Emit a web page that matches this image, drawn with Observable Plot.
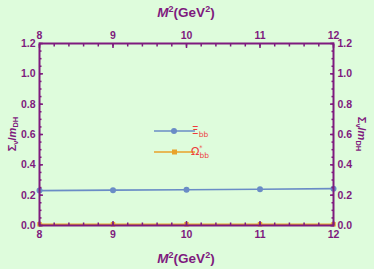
<!DOCTYPE html>
<html>
<head>
<meta charset="utf-8">
<script src="https://cdn.jsdelivr.net/npm/d3@7"></script>
<script src="https://cdn.jsdelivr.net/npm/@observablehq/plot@0.6"></script>
<style>
  html, body { margin: 0; padding: 0; background: #defcdc; }
  #chart svg { display: block; }
</style>
</head>
<body>
<div id="chart"></div>
<script>
const m2 = [8, 9, 10, 11, 12];
const xiBB = [0.230, 0.233, 0.236, 0.239, 0.243];
const omegaBB = [0.008, 0.008, 0.008, 0.008, 0.008];
const xTicks = [8, 9, 10, 11, 12];
const yTicks = [0.0, 0.2, 0.4, 0.6, 0.8, 1.0, 1.2];

const purple = "#7e1a7e";
const blue = "#6a8cc6";
const orange = "#e8a22a";
const bg = "#defcdc";

const rowsXi = m2.map((m, i) => ({m, v: xiBB[i]}));
const rowsOm = m2.map((m, i) => ({m, v: omegaBB[i]}));

const W = 374, H = 269;
const font = "Liberation Sans, Arial, sans-serif";

const plot = Plot.plot({
  width: W, height: H,
  marginLeft: 39, marginRight: 41, marginTop: 43, marginBottom: 44,
  style: {background: bg, fontFamily: font, fontWeight: "bold", fontSize: "10.5px", color: purple},
  x: {domain: [8, 12], label: null},
  y: {domain: [0, 1.2], label: null},
  marks: [
    Plot.line(rowsXi, {x: "m", y: "v", stroke: blue, strokeWidth: 1.6}),
    Plot.dot(rowsXi, {x: "m", y: "v", fill: blue, r: 3}),
    Plot.line(rowsOm, {x: "m", y: "v", stroke: orange, strokeWidth: 1.6}),
    Plot.dot(rowsOm, {x: "m", y: "v", fill: orange, symbol: "square", r: 2.5}),
    // minor ticks
    Plot.axisX({anchor: "bottom", ticks: d3.range(8, 12.001, 0.2), tickSize: -2.5, text: null, stroke: purple, strokeWidth: 1.5, label: null}),
    Plot.axisX({anchor: "top", ticks: d3.range(8, 12.001, 0.2), tickSize: -2.5, text: null, stroke: purple, strokeWidth: 1.5, label: null}),
    Plot.axisY({anchor: "left", ticks: d3.range(0, 1.2001, 0.05), tickSize: -2.5, text: null, stroke: purple, strokeWidth: 1.5, label: null}),
    Plot.axisY({anchor: "right", ticks: d3.range(0, 1.2001, 0.05), tickSize: -2.5, text: null, stroke: purple, strokeWidth: 1.5, label: null}),
    // major ticks
    Plot.axisX({anchor: "bottom", ticks: xTicks, tickSize: -4, text: null, stroke: purple, strokeWidth: 1.5, label: null}),
    Plot.axisX({anchor: "top", ticks: xTicks, tickSize: -4, text: null, stroke: purple, strokeWidth: 1.5, label: null}),
    Plot.axisY({anchor: "left", ticks: yTicks, tickSize: -4, text: null, stroke: purple, strokeWidth: 1.5, label: null}),
    Plot.axisY({anchor: "right", ticks: yTicks, tickSize: -4, text: null, stroke: purple, strokeWidth: 1.5, label: null}),
    // tick labels
    Plot.axisX({anchor: "bottom", ticks: xTicks, tickSize: 0, tickPadding: 5, tickFormat: d => String(d), fill: purple, label: null}),
    Plot.axisX({anchor: "top", ticks: xTicks, tickSize: 0, tickPadding: 5, tickFormat: d => String(d), fill: purple, label: null}),
    Plot.axisY({anchor: "left", ticks: yTicks, tickSize: 0, tickPadding: 4, tickFormat: d3.format(".1f"), fill: purple, label: null}),
    Plot.axisY({anchor: "right", ticks: yTicks, tickSize: 0, tickPadding: 4, tickFormat: d3.format(".1f"), fill: purple, label: null}),
    Plot.frame({stroke: purple, strokeWidth: 2})
  ]
});
document.getElementById("chart").appendChild(plot);

const svg = d3.select(plot);
const x0 = 39, x1 = W - 41, y0 = 43, y1 = H - 44;
const cx = (x0 + x1) / 2, cy = (y0 + y1) / 2;

function xTitle(y) {
  const t = svg.append("text").attr("x", cx).attr("y", y).attr("text-anchor", "middle")
    .attr("fill", purple).style("font", `bold 13.5px ${font}`);
  t.append("tspan").attr("font-style", "italic").text("M");
  t.append("tspan").attr("font-size", "9px").attr("dy", -5).text("2");
  t.append("tspan").attr("dy", 5).text("(GeV");
  t.append("tspan").attr("font-size", "9px").attr("dy", -5).text("2");
  t.append("tspan").attr("dy", 5).text(")");
}
xTitle(17);
xTitle(263);

function yTitle(x, rot) {
  const t = svg.append("text").attr("transform", `translate(${x},${cy}) rotate(${rot})`)
    .attr("text-anchor", "middle").attr("fill", purple).style("font", `bold 11px ${font}`);
  t.append("tspan").text("Σ");
  t.append("tspan").attr("font-size", "7.5px").attr("dy", 2).text("v");
  t.append("tspan").attr("dy", -2).text("/");
  t.append("tspan").attr("font-style", "italic").text("m");
  t.append("tspan").attr("font-size", "7.5px").attr("dy", 2).text("DH");
}
yTitle(16, -90);
yTitle(358, 90);

// legend
const legend = svg.append("g");
const items = [
  {color: blue, sym: "circle", main: "Ξ", sub: "bb", sup: ""},
  {color: orange, sym: "square", main: "Ω", sub: "bb", sup: "*"}
];
items.forEach((it, i) => {
  const ly = 131 + i * 21;
  legend.append("line").attr("x1", 154).attr("x2", 195).attr("y1", ly).attr("y2", ly)
    .attr("stroke", it.color).attr("stroke-width", 1.6);
  if (it.sym === "circle") legend.append("circle").attr("cx", 174).attr("cy", ly).attr("r", 3).attr("fill", it.color);
  else legend.append("rect").attr("x", 172).attr("y", ly - 2.5).attr("width", 5).attr("height", 5).attr("fill", it.color);
  const t = legend.append("text").attr("x", 200).attr("y", ly + 3).attr("fill", "#ee3b3b")
    .style("font", `11px DejaVu Sans, sans-serif`);
  t.append("tspan").text(it.main);
  if (it.sup) {
    t.append("tspan").attr("font-size", "6.5px").attr("dy", -5).text(it.sup);
    t.append("tspan").attr("font-size", "7.5px").attr("dx", -3).attr("dy", 8).text(it.sub);
  } else {
    t.append("tspan").attr("font-size", "7.5px").attr("dy", 3).text(it.sub);
  }
});
</script>
</body>
</html>
